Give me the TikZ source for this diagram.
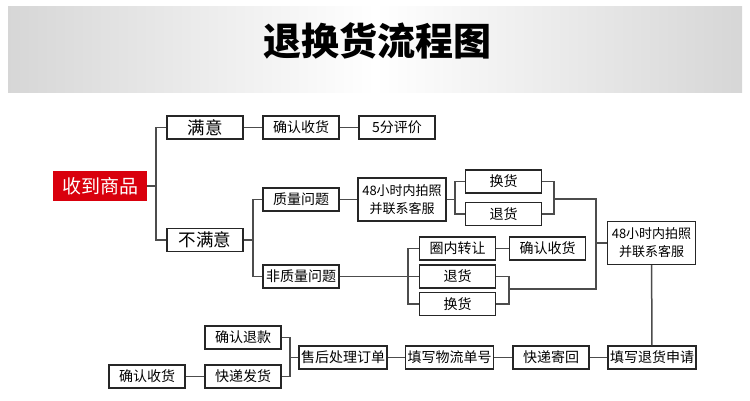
\documentclass[tikz,border=0pt]{standalone}
\usepackage{fontspec}
\setmainfont{Noto Sans CJK SC}
\definecolor{shred}{HTML}{D9000D}
\begin{document}
\begin{tikzpicture}[x=1pt,y=-1pt,
    box/.style={draw=black!85,line width=1.2pt,minimum width=76pt,minimum height=23pt,inner sep=0pt,font=\fontsize{14}{16}\selectfont},
    widebox/.style={box,minimum width=88pt},
    tallbox/.style={box,minimum width=88pt,minimum height=43pt,align=center,font=\fontsize{13}{18}\selectfont},
    line/.style={draw=black!70,line width=1.5pt}]
\useasboundingbox (0,0) rectangle (750,400);
\shade[left color=gray!32,right color=gray!32,middle color=white] (8,6) rectangle (742,92);
\node[font=\fontsize{38}{40}\selectfont\bfseries] (title) at (377,41) {退换货流程图};
\node[box,fill=shred,draw=shred,text=white,minimum width=92pt,minimum height=28pt,font=\fontsize{19}{21}\selectfont] (shou) at (100,186) {收到商品};
\node[box,font=\fontsize{17.5}{19}\selectfont] (manyi) at (205,127.5) {满意};
\node[box] (qrsh1) at (301,127.5) {确认收货};
\node[box] (pingjia) at (397,127.5) {5分评价};
\node[box,font=\fontsize{17.5}{19}\selectfont] (bumanyi) at (205,240) {不满意};
\node[box] (zhiliang) at (301,199.5) {质量问题};
\node[box] (feizl) at (301,276.5) {非质量问题};
\node[tallbox] (paizhao1) at (402,199.5) {48小时内拍照\\并联系客服};
\node[box] (huanhuo1) at (503.5,181.5) {换货};
\node[box] (tuihuo1) at (503.5,214) {退货};
\node[box] (quannei) at (457.5,248.5) {圈内转让};
\node[box] (qrsh2) at (547.5,248.5) {确认收货};
\node[box] (tuihuo2) at (457.5,276.5) {退货};
\node[box] (huanhuo2) at (457.5,304) {换货};
\node[tallbox] (paizhao2) at (651.5,243) {48小时内拍照\\并联系客服};
\node[widebox] (tianxie) at (652,357.5) {填写退货申请};
\node[box] (kuaidi) at (551,357.5) {快递寄回};
\node[widebox] (wuliu) at (449.5,357.5) {填写物流单号};
\node[widebox] (shouhou) at (343,357.5) {售后处理订单};
\node[box] (tuikuan) at (243,337.5) {确认退款};
\node[box] (fahuo) at (243,376.5) {快递发货};
\node[box] (qrsh3) at (147,376.5) {确认收货};
\coordinate (j1) at (156,186);
\coordinate (j2) at (253,240);
\coordinate (j3) at (455,199.5);
\coordinate (j4) at (554,199);
\coordinate (j5) at (596,289);
\coordinate (j6) at (509,289);
\coordinate (j7) at (408,276.5);
\coordinate (j8) at (290,357.5);
\draw[line] (shou.east) -- (j1);
\draw[line] (manyi.west) -| (j1) |- (bumanyi.west);
\draw[line] (manyi) -- (qrsh1);
\draw[line] (qrsh1) -- (pingjia);
\draw[line] (bumanyi.east) -- (j2);
\draw[line] (zhiliang.west) -| (j2) |- (feizl.west);
\draw[line] (zhiliang) -- (paizhao1);
\draw[line] (paizhao1.east) -- (j3);
\draw[line] (huanhuo1.west) -| (j3) |- (tuihuo1.west);
\draw[line] (huanhuo1.east) -| (j4) |- (tuihuo1.east);
\draw[line] (j4) -| (j5) -- (j6);
\draw[line] (tuihuo2.east) -| (j6) |- (huanhuo2.east);
\draw[line] (j5 |- paizhao2.west) -- (paizhao2.west);
\draw[line] (feizl) -- (tuihuo2);
\draw[line] (quannei.west) -| (j7) |- (huanhuo2.west);
\draw[line] (quannei) -- (qrsh2);
\draw[line] (paizhao2) -- (tianxie);
\draw[line] (tianxie) -- (kuaidi);
\draw[line] (kuaidi) -- (wuliu);
\draw[line] (wuliu) -- (shouhou);
\draw[line] (shouhou.west) -- (j8);
\draw[line] (tuikuan.east) -| (j8) |- (fahuo.east);
\draw[line] (fahuo) -- (qrsh3);
\end{tikzpicture}
\end{document}
